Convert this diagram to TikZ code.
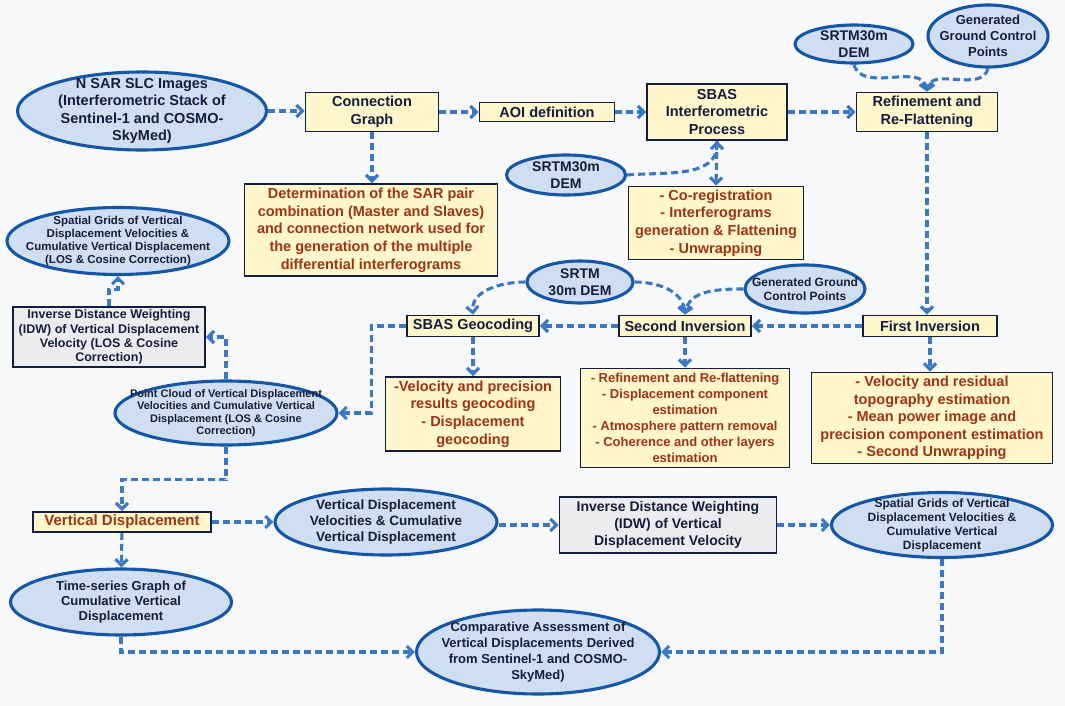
\documentclass[tikz,border=0pt]{standalone}
\usepackage{fontspec}
\setmainfont{Liberation Sans}
\usetikzlibrary{shapes.geometric,arrows.meta,calc}
\definecolor{bgc}{RGB}{247,248,250}
\definecolor{ellblue}{RGB}{22,86,166}
\definecolor{ellfill}{RGB}{207,222,241}
\definecolor{navy}{RGB}{22,28,62}
\definecolor{boxfill}{RGB}{255,247,203}
\definecolor{grayfill}{RGB}{236,236,238}
\definecolor{brown}{RGB}{158,52,22}
\definecolor{arrblue}{RGB}{60,120,194}
\newcommand{\myfs}[2]{\fontsize{#1}{#2}\selectfont\bfseries}
\begin{document}
\begin{tikzpicture}[x=1pt,y=1pt,
  ell/.style={ellipse, draw=ellblue, line width=3.1pt, fill=ellfill, inner sep=0pt},
  etxt/.style={align=center, text=navy, inner sep=0pt},
  box/.style={rectangle, draw=navy, line width=1.8pt, fill=boxfill, inner sep=0pt, align=center, text=navy},
  gbox/.style={box, fill=grayfill},
  bbox/.style={box, text=brown},
  arr/.style={draw=arrblue, line width=3.1pt, dash pattern=on 7pt off 4pt,
    -{Straight Barb[length=6pt,width=12pt]}}]
\fill[bgc] (0,0) rectangle (1065,-706);
\useasboundingbox (0,0) rectangle (1065,-706);

% top row
\node[ell, minimum width=249, minimum height=78] (sar) at (142,-111) {};
\node[etxt, font=\myfs{14.5}{17.5}] (sar-t) at (sar) {N SAR SLC Images\\(Interferometric Stack of\\Sentinel-1 and COSMO-\\SkyMed)};
\node[box, minimum width=133, minimum height=39, font=\myfs{14.5}{17.5}] (cg) at (372,-112) {Connection\\Graph};
\node[box, minimum width=135, minimum height=19, font=\myfs{14.5}{17.5}] (aoi) at (547,-112) {AOI definition};
\node[box, minimum width=140, minimum height=56, font=\myfs{14.5}{17.5}] (sbas) at (717,-112) {SBAS\\Interferometric\\Process};
\node[ell, minimum width=118, minimum height=38] (srtm1) at (854,-44) {};
\node[etxt, font=\myfs{14}{17}] (srtm1-t) at (srtm1) {SRTM30m\\DEM};
\node[ell, minimum width=120, minimum height=62] (gcp1) at (988,-36) {};
\node[etxt, font=\myfs{13}{16}] (gcp1-t) at (gcp1) {Generated\\Ground Control\\Points};
\node[box, minimum width=141, minimum height=39, font=\myfs{14.5}{17.5}] (ref) at (927,-112) {Refinement and\\Re-Flattening};
\node[ell, minimum width=119, minimum height=40] (srtm2) at (566,-175) {};
\node[etxt, font=\myfs{14}{17}] (srtm2-t) at (srtm2) {SRTM30m\\DEM};

% second row
\node[bbox, minimum width=253, minimum height=92, font=\myfs{14.5}{17.7}] (det) at (371,-230) {Determination of the SAR pair\\combination (Master and Slaves)\\and connection network used for\\the generation of the multiple\\differential interferograms};
\node[bbox, minimum width=175, minimum height=73, font=\myfs{14.5}{17.7}] (coreg) at (716,-223) {- Co-registration\\- Interferograms\\generation \& Flattening\\- Unwrapping};
\node[ell, minimum width=222, minimum height=67] (sg1) at (118,-241) {};
\node[etxt, font=\myfs{11.5}{12.7}] (sg1-t) at (sg1) {Spatial Grids of Vertical\\Displacement Velocities \&\\Cumulative Vertical Displacement\\(LOS \& Cosine Correction)};
\node[gbox, minimum width=192, minimum height=60, font=\myfs{12.5}{14.3}] (idw1) at (109,-337) {Inverse Distance Weighting\\(IDW) of Vertical Displacement\\Velocity (LOS \& Cosine\\Correction)};
\node[ell, minimum width=222, minimum height=64] (pc) at (226,-413) {};
\node[etxt, font=\myfs{11}{12.5}] (pc-t) at (pc) {Point Cloud of Vertical Displacement\\Velocities and Cumulative Vertical\\Displacement (LOS \& Cosine\\Correction)};

% third row
\node[ell, minimum width=106, minimum height=42] (srtm3) at (580,-282) {};
\node[etxt, font=\myfs{14}{17.5}] (srtm3-t) at (srtm3) {SRTM\\30m DEM};
\node[box, minimum width=132, minimum height=21, font=\myfs{14.5}{17.5}] (geo) at (473,-326) {SBAS Geocoding};
\node[box, minimum width=132, minimum height=21, font=\myfs{14.5}{17.5}] (inv2) at (685,-326) {Second Inversion};
\node[ell, minimum width=120, minimum height=48] (gcp2) at (805,-289) {};
\node[etxt, font=\myfs{12}{14.3}] (gcp2-t) at (gcp2) {Generated Ground\\Control Points};
\node[box, minimum width=134, minimum height=21, font=\myfs{14.5}{17.5}] (inv1) at (930,-326) {First Inversion};

\node[bbox, minimum width=175, minimum height=74, font=\myfs{14.5}{17.7}] (vel) at (473,-414) {-Velocity and precision\\results geocoding\\- Displacement\\geocoding};
\node[bbox, minimum width=209, minimum height=99, font=\myfs{13}{16}] (reflist) at (685,-418) {- Refinement and Re-flattening\\- Displacement component\\estimation\\- Atmosphere pattern removal\\- Coherence and other layers\\estimation};
\node[bbox, minimum width=241, minimum height=91, font=\myfs{14.5}{17.5}] (velres) at (932,-418) {- Velocity and residual\\topography estimation\\- Mean power image and\\precision component estimation\\- Second Unwrapping};

% bottom rows
\node[bbox, minimum width=178, minimum height=20, font=\myfs{15}{17.5}] (vd) at (122,-522) {Vertical Displacement};
\node[ell, minimum width=222, minimum height=66] (vdv) at (386,-522) {};
\node[etxt, font=\myfs{13.5}{16}] (vdv-t) at (vdv) {Vertical Displacement\\Velocities \& Cumulative\\Vertical Displacement};
\node[gbox, minimum width=217, minimum height=56, font=\myfs{14}{16.7}] (idw2) at (668,-525) {Inverse Distance Weighting\\(IDW) of Vertical\\Displacement Velocity};
\node[ell, minimum width=221, minimum height=65] (sg2) at (942,-525) {};
\node[etxt, font=\myfs{12}{14}] (sg2-t) at (sg2) {Spatial Grids of Vertical\\Displacement Velocities \&\\Cumulative Vertical\\Displacement};
\node[ell, minimum width=221, minimum height=66] (ts) at (121,-602) {};
\node[etxt, font=\myfs{13}{15.2}] (ts-t) at (ts) {Time-series Graph of\\Cumulative Vertical\\Displacement};
\node[ell, minimum width=243, minimum height=84] (comp) at (538,-652) {};
\node[etxt, font=\myfs{13}{16}] (comp-t) at (comp) {Comparative Assessment of\\Vertical Displacements Derived\\from Sentinel-1 and COSMO-\\SkyMed)};

% connectors
\draw[arr] (sar.east) -- (sar.east -| cg.west);
\draw[arr] (cg) -- (aoi);
\draw[arr] (aoi) -- (sbas);
\draw[arr] (sbas) -- (ref);
\draw[arr] (srtm1.south) to[out=-75,in=100] (ref.north);
\draw[arr] (gcp1.south) to[out=-105,in=80] (ref.north);
\draw[arr] (cg.south) -- (det.north -| cg.south);
\draw[arr] (srtm2.east) to[out=5,in=-90] (sbas.south);
\draw[arr] (sbas.south) -- (coreg.north);
\draw[arr] (ref.south) -- (ref.south |- inv1.north);
\draw[arr] (inv1) -- (inv2);
\draw[arr] (inv2) -- (geo);
\draw[arr] (srtm3.west) to[out=180,in=95] (geo.north);
\draw[arr] (srtm3.east) to[out=0,in=95] (inv2.north);
\draw[arr] (gcp2.west) to[out=180,in=80] (inv2.north);
\draw[arr] (geo) -- (vel);
\draw[arr] (inv2) -- (reflist);
\draw[arr] (inv1.south) -- (inv1.south |- velres.north);
\draw[arr] (geo.west) -- ++(-35,0) |- (pc.east);
\draw[arr] (pc.north) |- (idw1.east);
\draw[arr] (idw1.north) -- ++(0,17) -| (sg1.south);
\draw[arr] (pc.south) -- ++(0,-33) -| (vd.north);
\draw[arr] (vd) -- (vdv);
\draw[arr] (vdv.east |- idw2) -- (idw2.west);
\draw[arr] (idw2) -- (sg2);
\draw[arr] (vd) -- (ts);
\draw[arr] (ts.south) |- (comp.west);
\draw[arr] (sg2.south) |- (comp.east);
\end{tikzpicture}
\end{document}
